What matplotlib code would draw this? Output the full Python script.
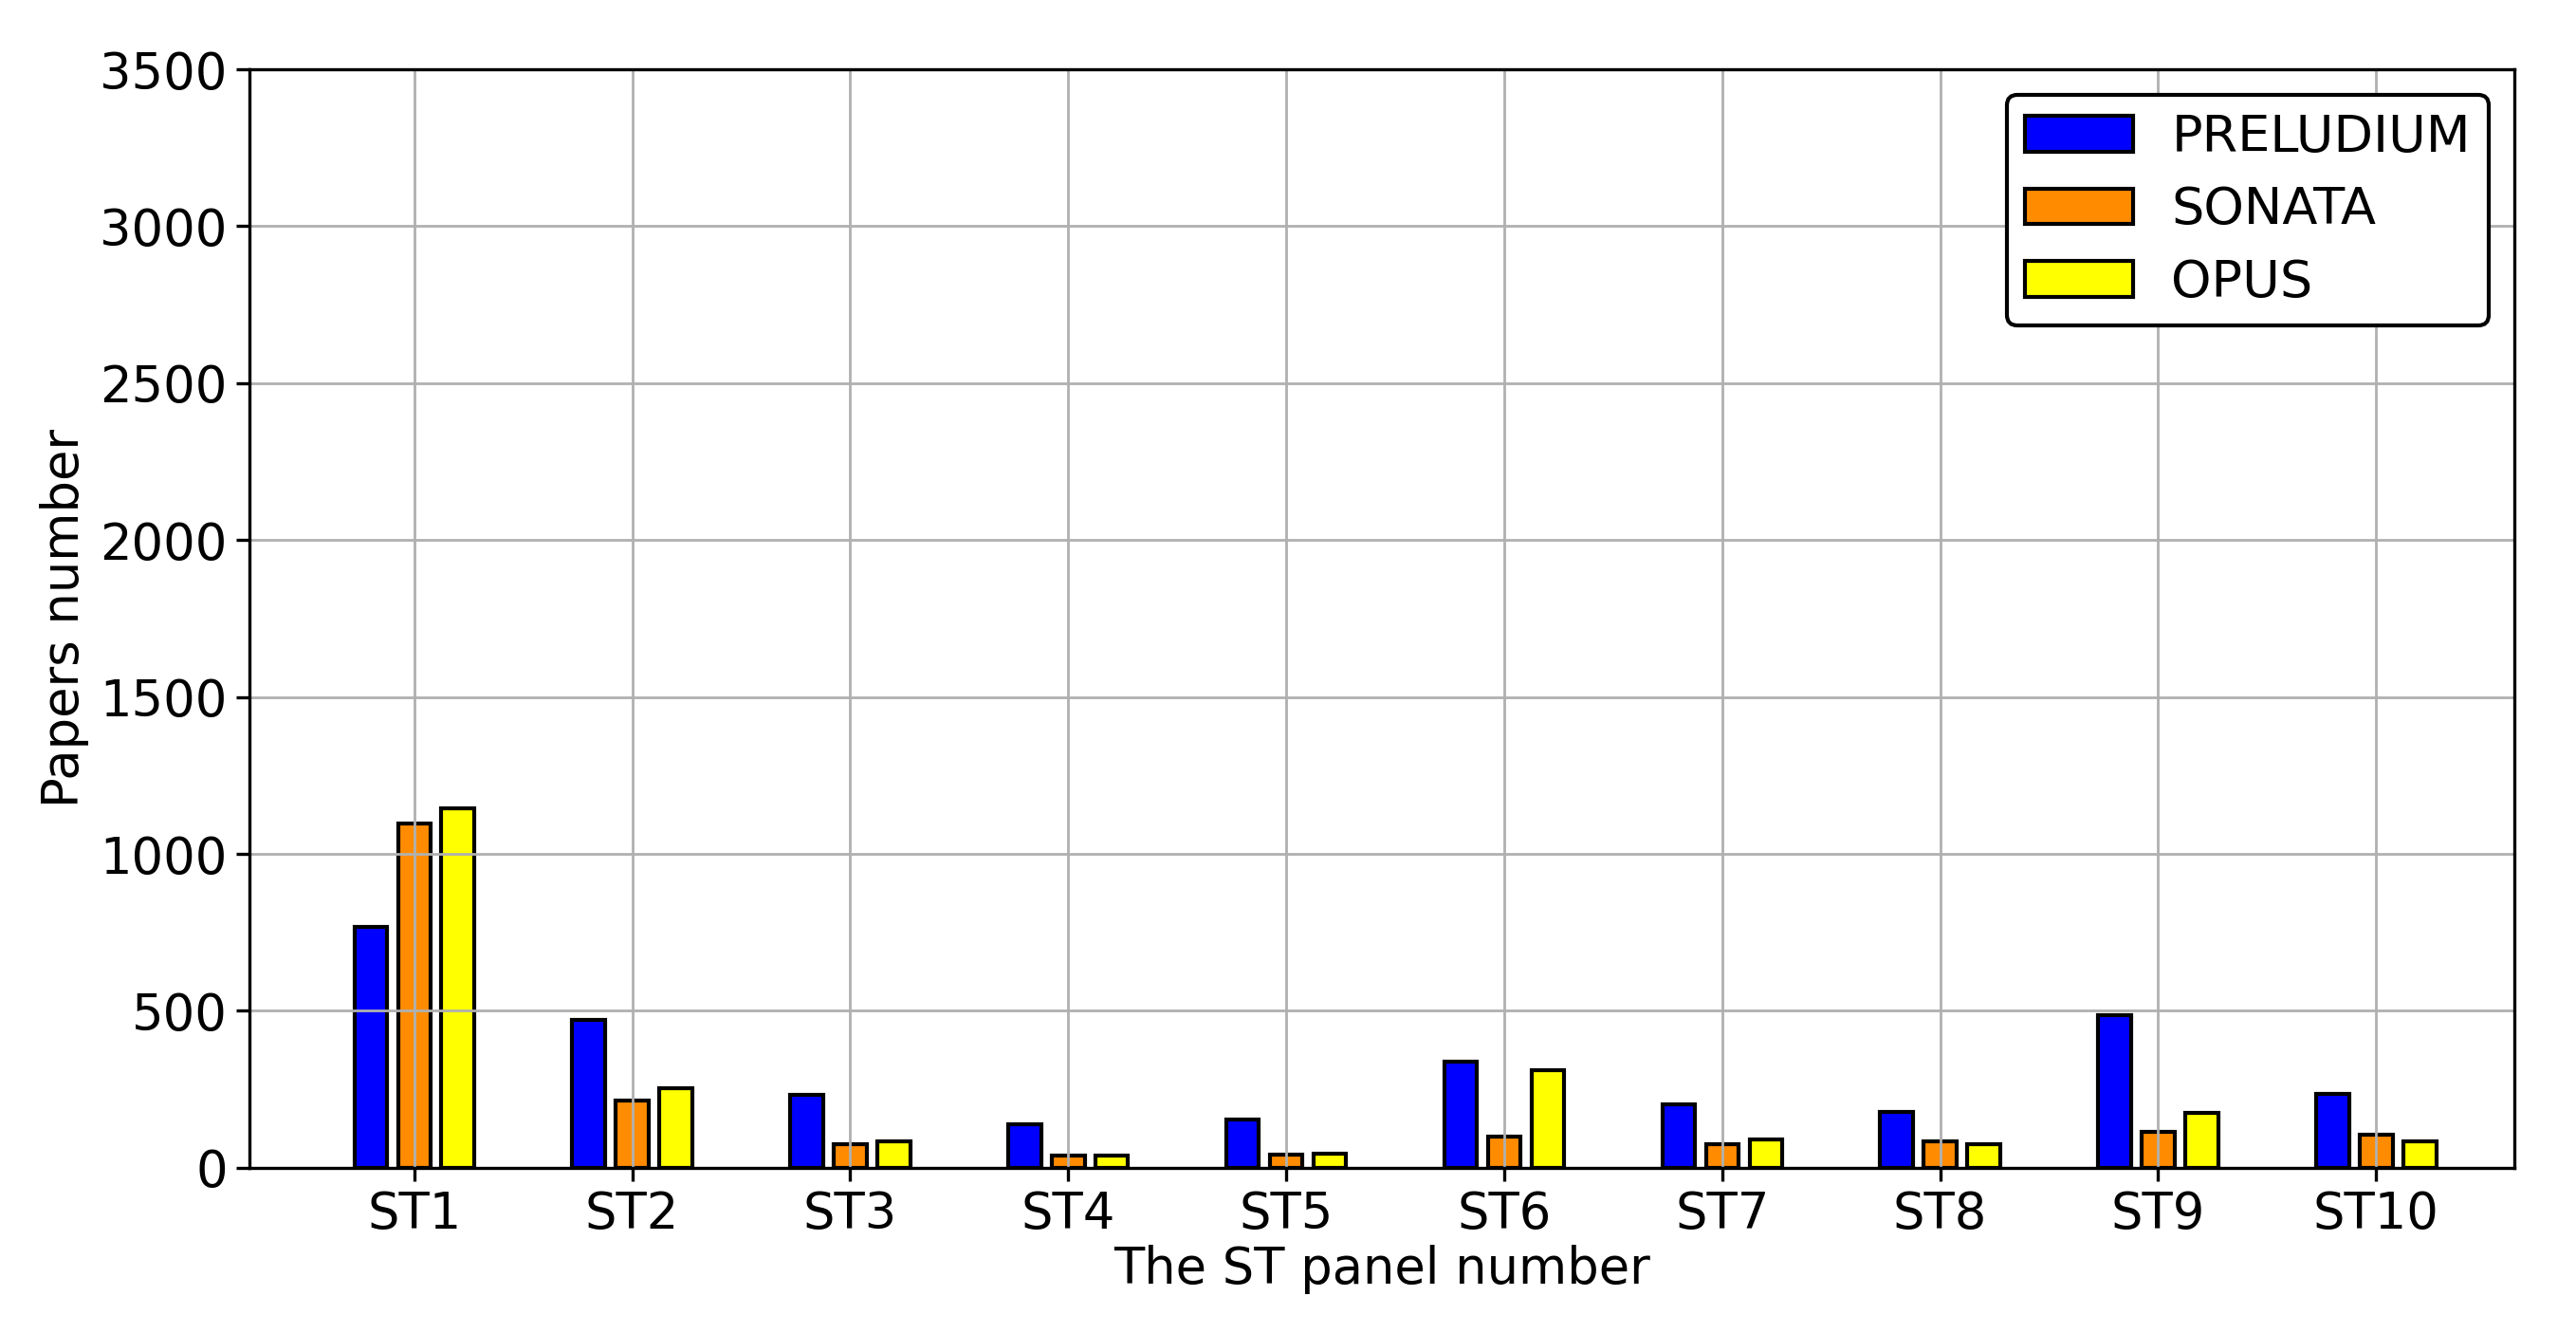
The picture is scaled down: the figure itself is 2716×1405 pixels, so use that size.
import numpy as np
from matplotlib import pyplot as plt

# dane
panels = ['ST1', 'ST2', 'ST3', 'ST4', 'ST5', 'ST6', 'ST7', 'ST8', 'ST9', 'ST10']
preludium = [768, 470, 233, 139, 153, 338, 202, 179, 486, 236]
sonata = [1096, 215, 74, 40, 41, 99, 76, 83, 113, 104]
opus = [1144, 254, 83, 40, 45, 311, 91, 74, 176, 83]

x = np.arange(len(panels))
w = 0.15
step = 0.2

fig, ax = plt.subplots(figsize=(13.58, 7.025), dpi=200)
fig.subplots_adjust(left=0.097, right=0.976, top=0.948, bottom=0.124)

ax.bar(x - step, preludium, w, color='blue', edgecolor='black', linewidth=1.5, label='PRELUDIUM')
ax.bar(x, sonata, w, color='darkorange', edgecolor='black', linewidth=1.5, label='SONATA')
ax.bar(x + step, opus, w, color='yellow', edgecolor='black', linewidth=1.5, label='OPUS')

ax.set_xticks(x)
ax.set_xticklabels(panels)
ax.set_xlim(-0.754, 9.633)
ax.set_ylim(0, 3500)
ax.set_yticks(np.arange(0, 3501, 500))
ax.tick_params(labelsize=19, width=1.2, length=5)
ax.grid(True, color='#b0b0b0', linewidth=1.0)

ax.set_xlabel('The ST panel number', fontsize=19, labelpad=2)
ax.set_ylabel('Papers number', fontsize=19)

leg = ax.legend(loc='upper right', fontsize=19.5, fancybox=True, framealpha=1,
                edgecolor='black', borderpad=0.35, handlelength=2.1,
                handletextpad=0.75, labelspacing=0.45)
leg.get_frame().set_linewidth(1.5)

for s in ax.spines.values():
    s.set_linewidth(1.2)

plt.savefig('out.png')
